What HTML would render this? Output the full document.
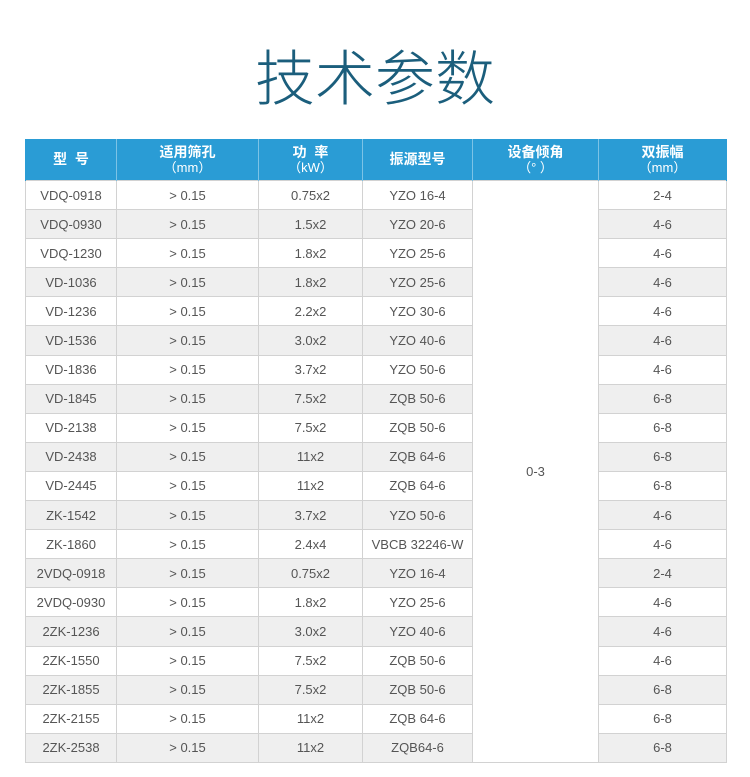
<!DOCTYPE html>
<html><head><meta charset="utf-8">
<style>
html,body{margin:0;padding:0;background:#fff;}
body{width:750px;height:777px;position:relative;overflow:hidden;font-family:"Liberation Sans","Noto Sans CJK SC",sans-serif;}
.title{position:absolute;left:0;width:750px;top:35px;text-align:center;font-family:"Noto Sans CJK SC","WenQuanYi Zen Hei",sans-serif;font-weight:200;font-size:60px;line-height:80px;color:#1b5e7c;}
table{position:absolute;left:25px;top:139px;border-collapse:collapse;table-layout:fixed;width:701px;}
td,th{padding:0;text-align:center;vertical-align:middle;}
th{background:#2a9cd5;color:#fff;font-family:"Liberation Sans","Noto Sans CJK SC",sans-serif;font-weight:bold;font-size:14px;line-height:15px;height:41px;border-left:1px solid #7cc3e6;border-right:1px solid #7cc3e6;}
th:first-child{border-left:1px solid #2a9cd5;}
th:last-child{border-right:1px solid #2a9cd5;}
th .u{font-weight:normal;font-size:13px;}
td{height:28.1px;font-size:13px;color:#555;border:1px solid #d2d2d2;}
tr.g td{background:#efefef;}
td.m{background:#fff !important;}
</style></head><body>
<div class="title">技术参数</div>
<table>
<colgroup><col style="width:91px"><col style="width:142px"><col style="width:104px"><col style="width:110px"><col style="width:126px"><col style="width:128px"></colgroup>
<tr><th>型&nbsp;&nbsp;号</th><th>适用筛孔<br><span class="u">（mm）</span></th><th>功&nbsp;&nbsp;率<br><span class="u">（kW）</span></th><th>振源型号</th><th>设备倾角<br><span class="u">（°&nbsp;）</span></th><th>双振幅<br><span class="u">（mm）</span></th></tr>
<tr><td>VDQ-0918</td><td>&gt; 0.15</td><td>0.75x2</td><td>YZO 16-4</td><td class="m" rowspan="20">0-3</td><td>2-4</td></tr>
<tr class="g"><td>VDQ-0930</td><td>&gt; 0.15</td><td>1.5x2</td><td>YZO 20-6</td><td>4-6</td></tr>
<tr><td>VDQ-1230</td><td>&gt; 0.15</td><td>1.8x2</td><td>YZO 25-6</td><td>4-6</td></tr>
<tr class="g"><td>VD-1036</td><td>&gt; 0.15</td><td>1.8x2</td><td>YZO 25-6</td><td>4-6</td></tr>
<tr><td>VD-1236</td><td>&gt; 0.15</td><td>2.2x2</td><td>YZO 30-6</td><td>4-6</td></tr>
<tr class="g"><td>VD-1536</td><td>&gt; 0.15</td><td>3.0x2</td><td>YZO 40-6</td><td>4-6</td></tr>
<tr><td>VD-1836</td><td>&gt; 0.15</td><td>3.7x2</td><td>YZO 50-6</td><td>4-6</td></tr>
<tr class="g"><td>VD-1845</td><td>&gt; 0.15</td><td>7.5x2</td><td>ZQB 50-6</td><td>6-8</td></tr>
<tr><td>VD-2138</td><td>&gt; 0.15</td><td>7.5x2</td><td>ZQB 50-6</td><td>6-8</td></tr>
<tr class="g"><td>VD-2438</td><td>&gt; 0.15</td><td>11x2</td><td>ZQB 64-6</td><td>6-8</td></tr>
<tr><td>VD-2445</td><td>&gt; 0.15</td><td>11x2</td><td>ZQB 64-6</td><td>6-8</td></tr>
<tr class="g"><td>ZK-1542</td><td>&gt; 0.15</td><td>3.7x2</td><td>YZO 50-6</td><td>4-6</td></tr>
<tr><td>ZK-1860</td><td>&gt; 0.15</td><td>2.4x4</td><td>VBCB 32246-W</td><td>4-6</td></tr>
<tr class="g"><td>2VDQ-0918</td><td>&gt; 0.15</td><td>0.75x2</td><td>YZO 16-4</td><td>2-4</td></tr>
<tr><td>2VDQ-0930</td><td>&gt; 0.15</td><td>1.8x2</td><td>YZO 25-6</td><td>4-6</td></tr>
<tr class="g"><td>2ZK-1236</td><td>&gt; 0.15</td><td>3.0x2</td><td>YZO 40-6</td><td>4-6</td></tr>
<tr><td>2ZK-1550</td><td>&gt; 0.15</td><td>7.5x2</td><td>ZQB 50-6</td><td>4-6</td></tr>
<tr class="g"><td>2ZK-1855</td><td>&gt; 0.15</td><td>7.5x2</td><td>ZQB 50-6</td><td>6-8</td></tr>
<tr><td>2ZK-2155</td><td>&gt; 0.15</td><td>11x2</td><td>ZQB 64-6</td><td>6-8</td></tr>
<tr class="g"><td>2ZK-2538</td><td>&gt; 0.15</td><td>11x2</td><td>ZQB64-6</td><td>6-8</td></tr>
</table>
</body></html>
